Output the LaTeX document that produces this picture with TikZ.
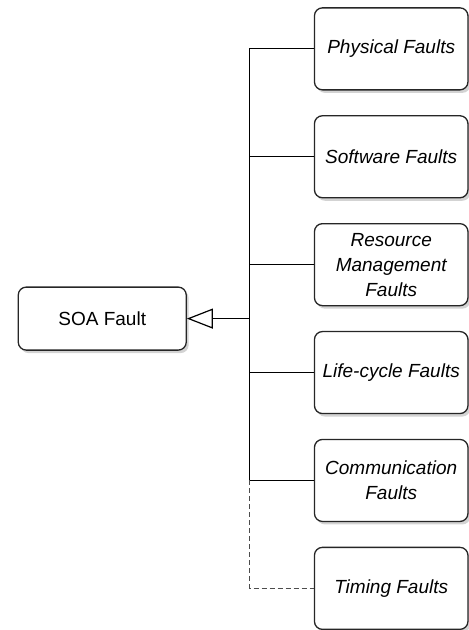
\documentclass[tikz,border=0pt]{standalone}
\usepackage{fontspec}
\setmainfont{Liberation Sans}
\usetikzlibrary{arrows.meta,calc,positioning,matrix,shadows}

\tikzset{
	fault/.style={draw=black!85, line width=0.65pt, rounded corners=4pt, fill=white,
		minimum width=76.75pt, minimum height=41pt, align=center, inner sep=1pt,
		font=\fontsize{9.5}{12.5}\selectfont\itshape,
		drop shadow={shadow xshift=1.2pt, shadow yshift=-1.5pt, opacity=0.35}},
	soa/.style={fault, font=\fontsize{9.5}{12.5}\selectfont, minimum width=84pt, minimum height=31.5pt},
	link/.style={draw=black, line width=0.6pt},
}

\begin{document}
\begin{tikzpicture}
		\useasboundingbox (0,0) rectangle (234.5pt,-315pt);
		\matrix (faults) [row sep=12.3pt, inner sep=0pt] at (195.6pt,-159.3pt)
		{
			\node[fault] (phys) {Physical Faults}; \\
			\node[fault] (soft) {Software Faults}; \\
			\node[fault] (res) {Resource\\Management\\Faults}; \\
			\node[fault] (life) {Life-cycle Faults}; \\
			\node[fault] (comm) {Communication\\Faults}; \\
			\node[fault] (timing) {Timing Faults}; \\
		};
		\node[soa, left=63.25pt of faults] (soa) {SOA Fault};
		\coordinate (bus) at ([xshift=-32pt]faults.west);
		%%
		\draw[link] (phys.west -| bus) -- (comm.west -| bus);
		\foreach \f in {phys,soft,res,life,comm}
			\draw[link] (\f.west) -- (\f.west -| bus);
		\draw[link, black!70, dash pattern=on 2.5pt off 1.5pt] (comm.west -| bus) |- (timing.west);
		\draw[link, -{Triangle[open, length=13pt, width=10pt]}] (bus) -- (soa.east);
		
	\end{tikzpicture}
\end{document}
